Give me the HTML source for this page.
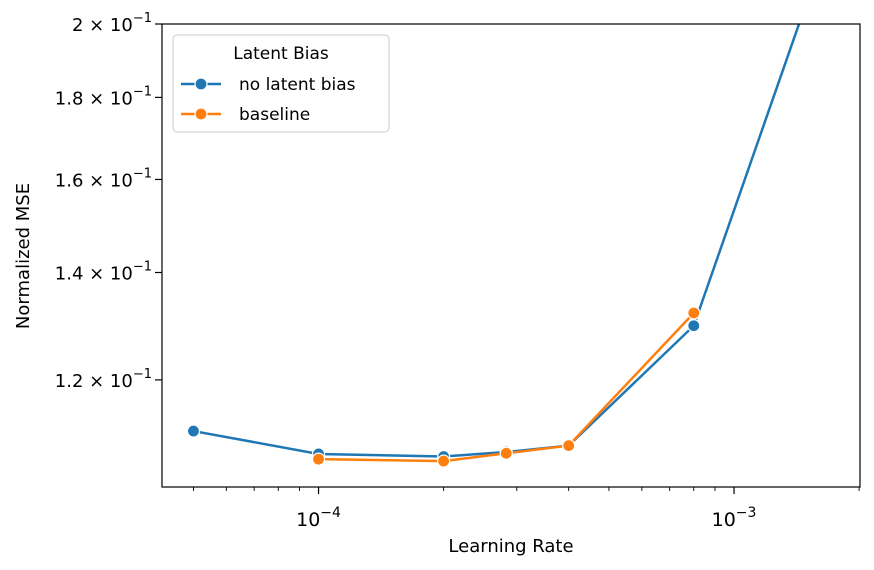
<!DOCTYPE html>
<html><head><meta charset="utf-8"><style>
body{margin:0;background:#fff;}
svg{display:block;font-family:"DejaVu Sans","Liberation Sans",sans-serif;}
</style></head><body>
<svg id="chart" width="874" height="570" viewBox="0 0 874 570">
<g id="grid"></g>
<g id="series"></g>
<rect x="162" y="24" width="698" height="463" fill="none" stroke="#000" stroke-width="1.2"/>
<text x="511" y="552" font-size="18" text-anchor="middle">Learning Rate</text>
<text transform="translate(29,256) rotate(-90)" font-size="18" text-anchor="middle">Normalized MSE</text>
<g>
<rect x="173" y="35" width="216" height="97" rx="4" fill="#fff" fill-opacity="0.85" stroke="#ccc"/>
<text x="281" y="59" font-size="17" text-anchor="middle">Latent Bias</text>
<g>
<line x1="181" y1="84" x2="221" y2="84" stroke="#1f77b4" stroke-width="2.5"/>
<circle cx="201" cy="84" r="6" fill="#1f77b4" stroke="#fff" stroke-width="1.2"/>
<text x="239" y="90" font-size="17">no latent bias</text></g>
<g>
<line x1="181" y1="114" x2="221" y2="114" stroke="#ff7f0e" stroke-width="2.5"/>
<circle cx="201" cy="114" r="6" fill="#ff7f0e" stroke="#fff" stroke-width="1.2"/>
<text x="239" y="120" font-size="17">baseline</text></g>
</g>
</svg>
<script>
const lrValues=[5e-5,1e-4,2e-4,2.83e-4,4e-4,8e-4,1.6e-3];
const noLatentBias=[0.1115,0.1079,0.1075,0.1082,0.1092,0.1297,0.217];
const baselineLr=[1e-4,2e-4,2.83e-4,4e-4,8e-4];
const baseline=[0.1071,0.1068,0.1080,0.1092,0.1321];
const yTickVals=[0.12,0.14,0.16,0.18,0.2];
const yTickLabels=["1.2","1.4","1.6","1.8","2"];
const xMajor=[1e-4,1e-3];
const xMajorLabels=["\u22124","\u22123"];

const L=162,R=860,T=24,B=487;
const x0=Math.log10(4.2e-5),x1=Math.log10(2.01e-3);
const y0=Math.log10(0.1029),y1=Math.log10(0.2);
const sx=v=>L+(Math.log10(v)-x0)/(x1-x0)*(R-L);
const sy=v=>B-(Math.log10(v)-y0)/(y1-y0)*(B-T);
const NS="http://www.w3.org/2000/svg";
const svg=document.getElementById('chart');
function mk(tag,attrs,parent){const e=document.createElementNS(NS,tag);for(const k in attrs)e.setAttribute(k,attrs[k]);parent.appendChild(e);return e;}
const grid=document.getElementById('grid');
for(let d=-5;d<=-3;d++){for(let m=1;m<10;m++){const v=m*Math.pow(10,d);const x=sx(v);if(x<L-0.5||x>R+0.5)continue;
const major=m===1;
const t=mk('line',{x1:x,x2:x,y1:B,y2:B+(major?7:4),stroke:'#000','stroke-width':major?1.2:0.9},grid);

}}
xMajor.forEach((v,i)=>{const x=sx(v);
const t=mk('text',{x:x,y:526,'font-size':19,'text-anchor':'middle'},grid);


t.innerHTML='10<tspan dy="-9" font-size="14">'+xMajorLabels[i]+'</tspan>';});
yTickVals.forEach((v,i)=>{const y=sy(v);
const l=mk('line',{x1:L-7,x2:L,y1:y,y2:y,stroke:'#000','stroke-width':1.2},grid);


const t=mk('text',{x:L-10,y:y+7,'font-size':18,'text-anchor':'end'},grid);


t.innerHTML=yTickLabels[i]+' \u00d7 10<tspan dy="-9" font-size="13">\u22121</tspan>';});
const sg=document.getElementById('series');
const clip=mk('clipPath',{id:'pc'},svg);mk('rect',{x:L,y:T,width:R-L,height:B-T},clip);
sg.setAttribute('clip-path','url(#pc)');
function draw(xs,ys,color,name){
const p=mk('polyline',{points:xs.map((v,i)=>sx(v)+','+sy(ys[i])).join(' '),fill:'none',stroke:color,'stroke-width':2.5},sg);


xs.forEach((v,i)=>{const c=mk('circle',{cx:sx(v),cy:sy(ys[i]),r:6,fill:color,stroke:'#fff','stroke-width':1.2},sg);

});}
draw(lrValues,noLatentBias,'#1f77b4','no-latent-bias');
draw(baselineLr,baseline,'#ff7f0e','baseline');
</script>
</body></html>
